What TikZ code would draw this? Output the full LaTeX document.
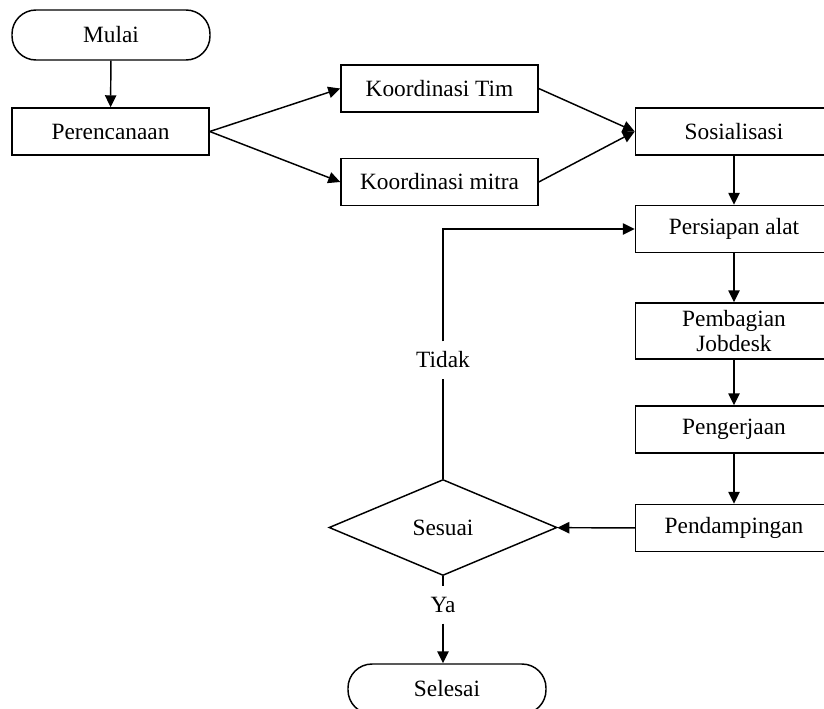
\documentclass[tikz,border=0pt]{standalone}
\usepackage{fontspec}
\setmainfont{Liberation Serif}
\usetikzlibrary{arrows.meta,shapes.geometric}

\tikzset{every picture/.style={line width=1.1pt}}
\tikzset{
  proses/.style={draw, rectangle, minimum width=147.75pt, minimum height=35.25pt, inner sep=2pt, align=center},
  terminal/.style={draw, rectangle, rounded corners=18pt, minimum width=148.5pt, minimum height=37.5pt},
  keputusan/.style={draw, diamond, minimum width=171pt, minimum height=72pt, inner sep=0pt},
  label/.style={inner sep=0pt, minimum height=27pt},
  panah/.style={-{Triangle[length=9pt,width=8.5pt]}}
}

\begin{document}
\begin{tikzpicture}[x=0.75pt,y=0.75pt,yscale=-1,xscale=1,font=\fontsize{17.5}{19}\selectfont]
\useasboundingbox (0,0) rectangle (824,708);
\clip (0,0) rectangle (824,708);

%Shape: Terminal
\node [terminal] (mulai) at (111,35) {Mulai};
%Shape: Rectangle
\node [proses] (perencanaan) at (110.5,131.5) {Perencanaan};
%Shape: Rectangle
\node [proses] (kortim) at (439.5,88.5) {Koordinasi Tim};
%Shape: Rectangle
\node [proses] (kormitra) at (439.5,182) {Koordinasi mitra};
%Shape: Rectangle
\node [proses] (sosialisasi) at (734,131.5) {Sosialisasi};
%Shape: Rectangle
\node [proses] (persiapan) at (734,229) {Persiapan alat};
%Shape: Rectangle
\node [proses, minimum height=42pt, text depth=0pt] (pembagian) at (734,331)
  {\fontsize{17.5}{25}\selectfont Pembagian\\Jobdesk};
%Shape: Rectangle
\node [proses] (pengerjaan) at (734,429.5) {Pengerjaan};
%Shape: Rectangle
\node [proses] (pendampingan) at (734,528) {Pendampingan};
%Shape: Diamond
\node [keputusan] (sesuai) at (443,527.5) {Sesuai};
%Shape: Terminal
\node [terminal] (selesai) at (447,689) {Selesai};

% Text Node
\node [label] (tidak) at (443,360) {Tidak};
% Text Node
\node [label] (ya) at (443,605) {Ya};

%Straight Lines
\draw [panah] (mulai) -- (perencanaan);
\draw [panah] (perencanaan.east) -- (kortim.west);
\draw [panah] (perencanaan.east) -- (kormitra.west);
\draw [panah] (kortim.east) -- (sosialisasi.west);
\draw [panah] (kormitra.east) -- (sosialisasi.west);
\draw [panah] (sosialisasi) -- (persiapan);
\draw [panah] (persiapan) -- (pembagian);
\draw [panah] (pembagian) -- (pengerjaan);
\draw [panah] (pengerjaan) -- (pendampingan);
\draw [panah] (pendampingan) -- (sesuai);
%Tidak
\draw (sesuai.north) -- (tidak.south);
\draw [panah] (tidak.north) |- (persiapan.west);
%Ya
\draw (sesuai.south) -- (ya.north);
\draw [panah] (ya.south) -- (ya.south |- selesai.north);

\end{tikzpicture}
\end{document}
